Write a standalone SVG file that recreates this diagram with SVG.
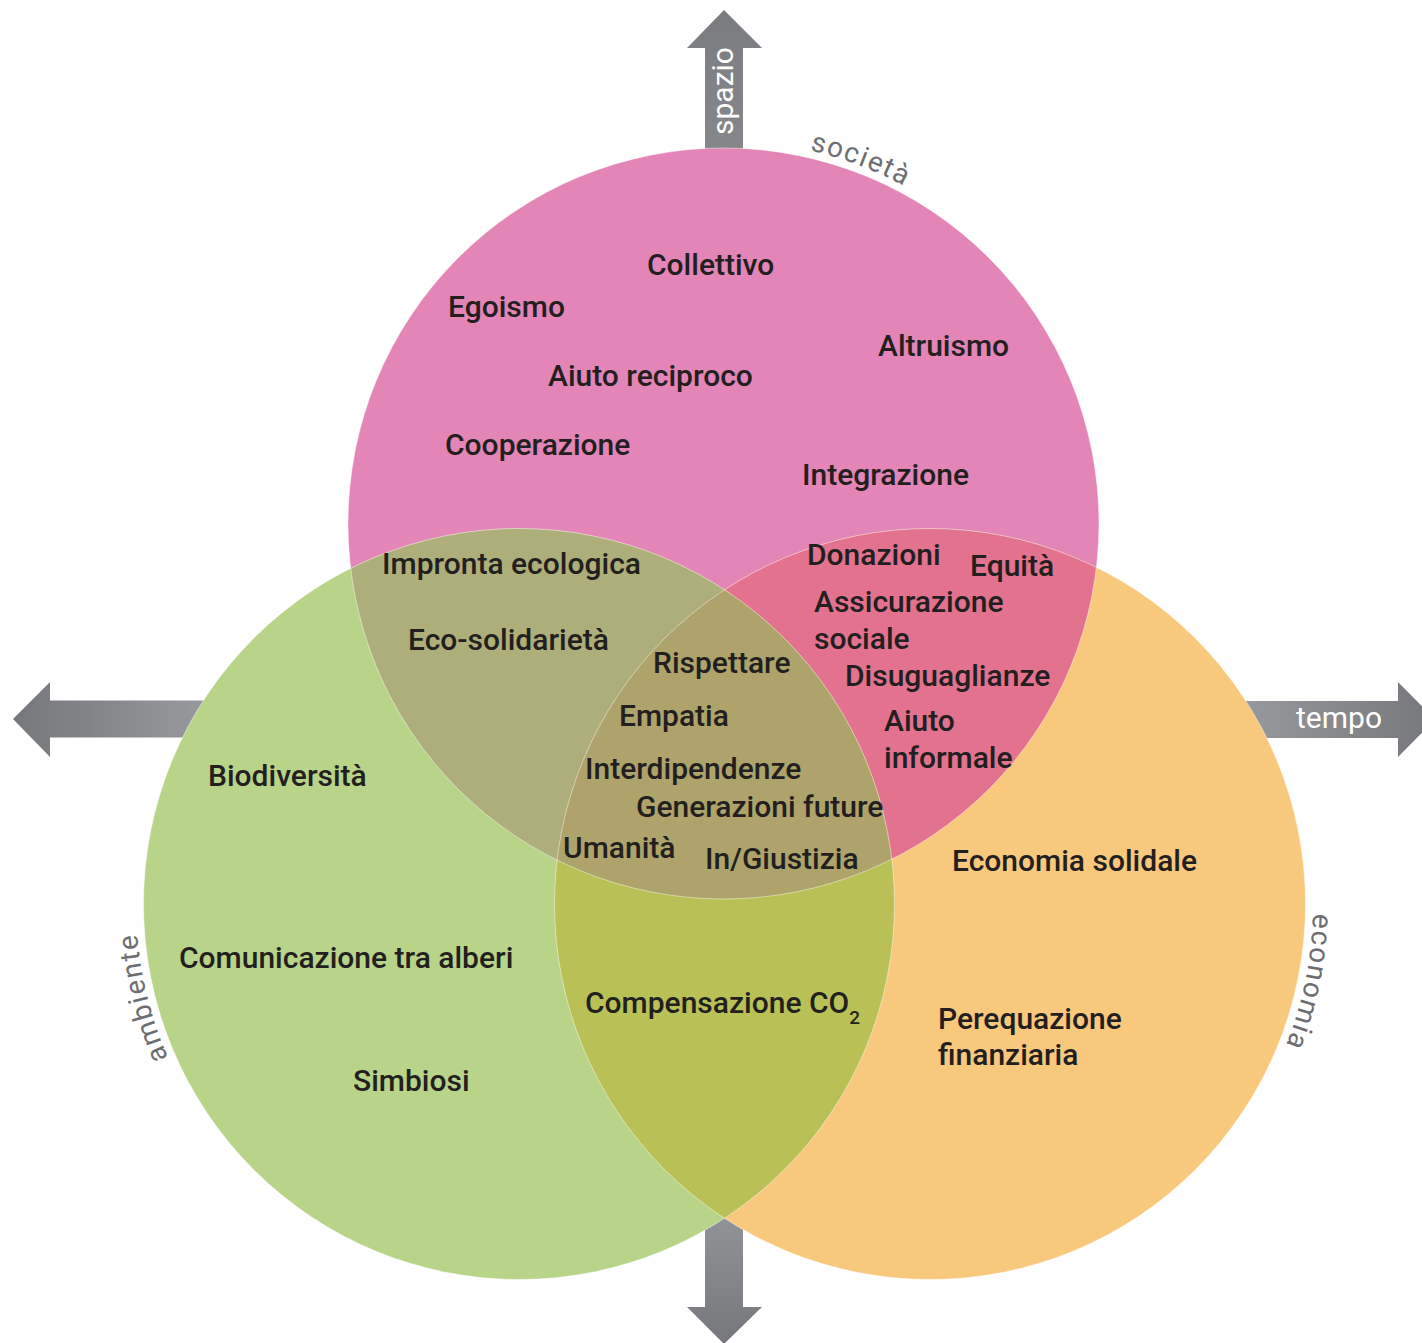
<svg xmlns="http://www.w3.org/2000/svg" xmlns:xlink="http://www.w3.org/1999/xlink" width="1422" height="1343" viewBox="0 0 1422 1343">
<style>
.t{font-family:Roboto,"Liberation Sans",sans-serif;font-weight:500;font-size:30px;fill:#231f20}
.sub{font-size:19px}
.ax{font-family:Roboto,"Liberation Sans",sans-serif;font-weight:400;font-size:30px;fill:#ffffff}
.cat{font-family:Roboto,"Liberation Sans",sans-serif;font-weight:400;font-size:28px;fill:#6d6e71;letter-spacing:1.6px}
.edge{fill:none;stroke:#ffffff;stroke-opacity:0.45;stroke-width:1}
</style>
<defs>
<linearGradient id="gLeft" x1="13" y1="0" x2="250" y2="0" gradientUnits="userSpaceOnUse"><stop offset="0" stop-color="#76777b"/><stop offset="1" stop-color="#a0a1a5"/></linearGradient>
<linearGradient id="gRight" x1="1200" y1="0" x2="1435" y2="0" gradientUnits="userSpaceOnUse"><stop offset="0" stop-color="#a0a1a5"/><stop offset="1" stop-color="#76777b"/></linearGradient>
<linearGradient id="gDown" x1="0" y1="1150" x2="0" y2="1344" gradientUnits="userSpaceOnUse"><stop offset="0" stop-color="#a0a1a5"/><stop offset="1" stop-color="#76777b"/></linearGradient>
<linearGradient id="gUp" x1="0" y1="200" x2="0" y2="10" gradientUnits="userSpaceOnUse"><stop offset="0" stop-color="#8a8b8f"/><stop offset="1" stop-color="#7b7c80"/></linearGradient>
<clipPath id="cP"><circle cx="723.5" cy="523.5" r="375.5"/></clipPath>
<clipPath id="cG"><circle cx="519" cy="904" r="375.5"/></clipPath>
<path id="arcP" d="M723.5,140.5 A383,383 0 1 1 723.5,906.5 A383,383 0 1 1 723.5,140.5"/>
<path id="arcG" d="M519,1287 A383,383 0 1 1 519,521 A383,383 0 1 1 519,1287"/>
<path id="arcO" d="M930,521 A383,383 0 1 1 930,1287 A383,383 0 1 1 930,521"/>
</defs>

<g id="axes">
<g id="axis-spazio">
<polygon points="705,200 705,48 687,48 724,10 762,48 743,48 743,200" fill="url(#gUp)"/>
<text class="ax" transform="translate(733,135) rotate(-90)">spazio</text>
</g>
<g id="axis-ambiente">
<polygon points="250,700.5 50,700.5 50,682 13,719 50,757 50,737.5 250,737.5" fill="url(#gLeft)"/>
</g>
<g id="axis-tempo">
<polygon points="1200,701 1398,701 1398,682 1435,719.5 1398,757 1398,738 1200,738" fill="url(#gRight)"/>
<text class="ax" x="1296" y="728">tempo</text>
</g>
<g id="axis-down">
<polygon points="705,1150 743,1150 743,1307 762,1307 724,1344 687,1307 705,1307" fill="url(#gDown)"/>
</g>
</g>

<g id="circles">
<circle id="societa" cx="723.5" cy="523.5" r="375.5" fill="#e385b6"/>
<circle id="ambiente" cx="519" cy="904" r="375.5" fill="#b8d489"/>
<circle id="economia" cx="930" cy="904" r="375.5" fill="#f8c87d"/>
<circle id="societa-ambiente" cx="519" cy="904" r="375.5" fill="#aeae7a" clip-path="url(#cP)"/>
<circle id="societa-economia" cx="930" cy="904" r="375.5" fill="#e2728e" clip-path="url(#cP)"/>
<circle id="ambiente-economia" cx="930" cy="904" r="375.5" fill="#b9c156" clip-path="url(#cG)"/>
<g clip-path="url(#cP)"><circle id="centro" cx="930" cy="904" r="375.5" fill="#aea46b" clip-path="url(#cG)"/></g>
<circle class="edge" cx="723.5" cy="523.5" r="375.5"/>
<circle class="edge" cx="519" cy="904" r="375.5"/>
<circle class="edge" cx="930" cy="904" r="375.5"/>
</g>

<g id="category-labels">
<text class="cat"><textPath xlink:href="#arcP" href="#arcP" startOffset="87">società</textPath></text>
<text class="cat"><textPath xlink:href="#arcG" href="#arcG" startOffset="443">ambiente</textPath></text>
<text class="cat"><textPath xlink:href="#arcO" href="#arcO" startOffset="611">economia</textPath></text>
</g>

<g id="terms-societa">
<text class="t" x="647" y="275">Collettivo</text>
<text class="t" x="448" y="317">Egoismo</text>
<text class="t" x="878" y="356">Altruismo</text>
<text class="t" x="548" y="386">Aiuto reciproco</text>
<text class="t" x="445" y="455">Cooperazione</text>
<text class="t" x="802" y="485">Integrazione</text>
</g>
<g id="terms-societa-ambiente">
<text class="t" x="382" y="574">Impronta ecologica</text>
<text class="t" x="408" y="650">Eco-solidarietà</text>
</g>
<g id="terms-societa-economia">
<text class="t" x="807" y="565">Donazioni</text>
<text class="t" x="970" y="576">Equità</text>
<text class="t" x="814" y="612">Assicurazione</text>
<text class="t" x="814" y="649">sociale</text>
<text class="t" x="845" y="686">Disuguaglianze</text>
<text class="t" x="884" y="731">Aiuto</text>
<text class="t" x="884" y="768">informale</text>
</g>
<g id="terms-centro">
<text class="t" x="653" y="673">Rispettare</text>
<text class="t" x="619" y="726">Empatia</text>
<text class="t" x="585" y="779">Interdipendenze</text>
<text class="t" x="636" y="817">Generazioni future</text>
<text class="t" x="563" y="858">Umanità</text>
<text class="t" x="705" y="869">In/Giustizia</text>
</g>
<g id="terms-ambiente">
<text class="t" x="208" y="786">Biodiversità</text>
<text class="t" x="179" y="968">Comunicazione tra alberi</text>
<text class="t" x="353" y="1091">Simbiosi</text>
</g>
<g id="terms-ambiente-economia">
<text class="t" x="585" y="1013">Compensazione CO<tspan class="sub" dy="11">2</tspan></text>
</g>
<g id="terms-economia">
<text class="t" x="952" y="871">Economia solidale</text>
<text class="t" x="938" y="1029">Perequazione</text>
<text class="t" x="938" y="1065">finanziaria</text>
</g>
</svg>
